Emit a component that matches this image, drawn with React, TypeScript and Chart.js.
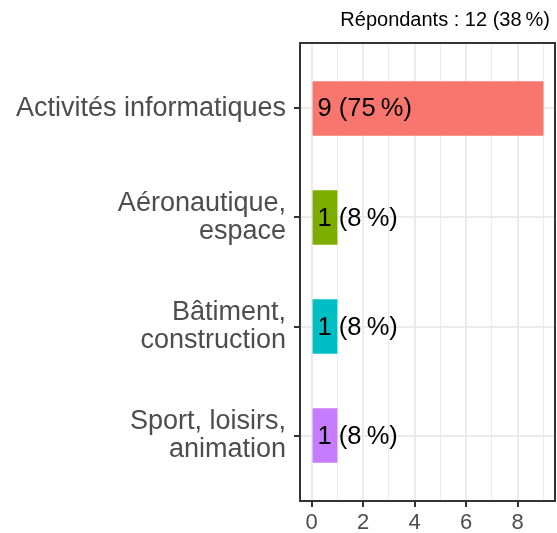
import React, { useEffect, useRef } from "react";
import { Chart, registerables } from "chart.js";

Chart.register(...registerables);

const categories = [
  "Activités informatiques",
  "Aéronautique,\nespace",
  "Bâtiment,\nconstruction",
  "Sport, loisirs,\nanimation",
];
const counts = [9, 1, 1, 1];
const percents = [75, 8, 8, 8];
const barColors = ["#F8766D", "#7CAE00", "#00BFC4", "#C77CFF"];
const majorTicks = [0, 2, 4, 6, 8];
const minorTicks = [1, 3, 5, 7, 9];
const titleText = "Répondants : 12 (38\u202F%)";

const FONT = "'Liberation Sans', Arial, sans-serif";

export default function App() {
  const ref = useRef<HTMLCanvasElement | null>(null);

  useEffect(() => {
    if (!ref.current) return;
    const allTicks = [...majorTicks, ...minorTicks].sort((a, b) => a - b);
    const labelPlugin = {
      id: "custom",
      afterDatasetsDraw(chart: any) {
        const { ctx, scales } = chart;
        const xs = scales.x;
        const ys = scales.y;
        ctx.save();
        ctx.font = `25.5px ${FONT}`;
        ctx.fillStyle = "#000000";
        ctx.textAlign = "left";
        ctx.textBaseline = "middle";
        counts.forEach((c, i) => {
          const x = xs.getPixelForValue(0) + 6;
          const y = ys.getPixelForValue(i) + 1;
          ctx.fillText(`${c} (${percents[i]}\u202F%)`, x, y);
        });
        ctx.restore();
      },
      afterDraw(chart: any) {
        const { ctx, chartArea } = chart;
        ctx.save();
        ctx.strokeStyle = "#333333";
        ctx.lineWidth = 2;
        ctx.strokeRect(
          chartArea.left,
          chartArea.top,
          chartArea.right - chartArea.left,
          chartArea.bottom - chartArea.top
        );
        ctx.font = `20px ${FONT}`;
        ctx.fillStyle = "#000000";
        ctx.textAlign = "right";
        ctx.textBaseline = "alphabetic";
        ctx.fillText(titleText, 550, 26);
        ctx.restore();
      },
    };

    const chart = new Chart(ref.current, {
      type: "bar",
      data: {
        datasets: [
          {
            data: counts.map((v, i) => ({ x: v, y: i })),
            backgroundColor: barColors,
            borderWidth: 0,
            barPercentage: 0.5,
            categoryPercentage: 1,
          },
        ],
      },
      plugins: [labelPlugin],
      options: {
        indexAxis: "y",
        animation: false,
        responsive: false,
        maintainAspectRatio: false,
        layout: { padding: { top: 43, right: 2, left: 0, bottom: 0 } },
        plugins: {
          legend: { display: false },
          tooltip: { enabled: false },
          title: { display: false },
        },
        scales: {
          x: {
            type: "linear",
            min: -0.45,
            max: 9.45,
            offset: false,
            afterBuildTicks: (scale: any) => {
              scale.ticks = allTicks.map((v) => ({ value: v }));
            },
            afterFit: (scale: any) => {
              scale.height = 32;
            },
            ticks: {
              autoSkip: false,
              maxRotation: 0,
              padding: 3,
              color: "#4D4D4D",
              font: { family: FONT, size: 22 },
              callback: (v: any) => (majorTicks.includes(Number(v)) ? String(v) : ""),
            },
            grid: {
              offset: false,
              color: "#EBEBEB",
              lineWidth: (ctx: any) =>
                majorTicks.includes(ctx.tick?.value) ? 2 : 1,
              tickColor: (ctx: any) =>
                majorTicks.includes(ctx.tick?.value) ? "#333333" : "rgba(0,0,0,0)",
              tickWidth: 2,
              tickLength: 6,
              drawTicks: true,
            },
            border: { display: false },
          },
          y: {
            type: "linear",
            reverse: true,
            offset: false,
            min: -0.6,
            max: 3.6,
            afterBuildTicks: (scale: any) => {
              scale.ticks = categories.map((_, i) => ({ value: i }));
            },
            afterFit: (scale: any) => {
              scale.width = 300;
            },
            ticks: {
              autoSkip: false,
              padding: 8,
              color: "#4D4D4D",
              font: { family: FONT, size: 27, lineHeight: 1.05 },
              callback: (v: any) => {
                const s = categories[Number(v)];
                return s ? s.split("\n") : "";
              },
            },
            grid: {
              offset: false,
              color: "#EBEBEB",
              lineWidth: 2,
              tickColor: "#333333",
              tickWidth: 2,
              tickLength: 6,
              drawTicks: true,
            },
            border: { display: false },
          },
        },
      },
    } as any);
    return () => chart.destroy();
  }, []);

  return (
    <div style={{ position: "fixed", left: 0, top: 0, width: 557, height: 533, background: "#fff" }}>
      <canvas ref={ref} width={557} height={533} style={{ display: "block" }} />
    </div>
  );
}
